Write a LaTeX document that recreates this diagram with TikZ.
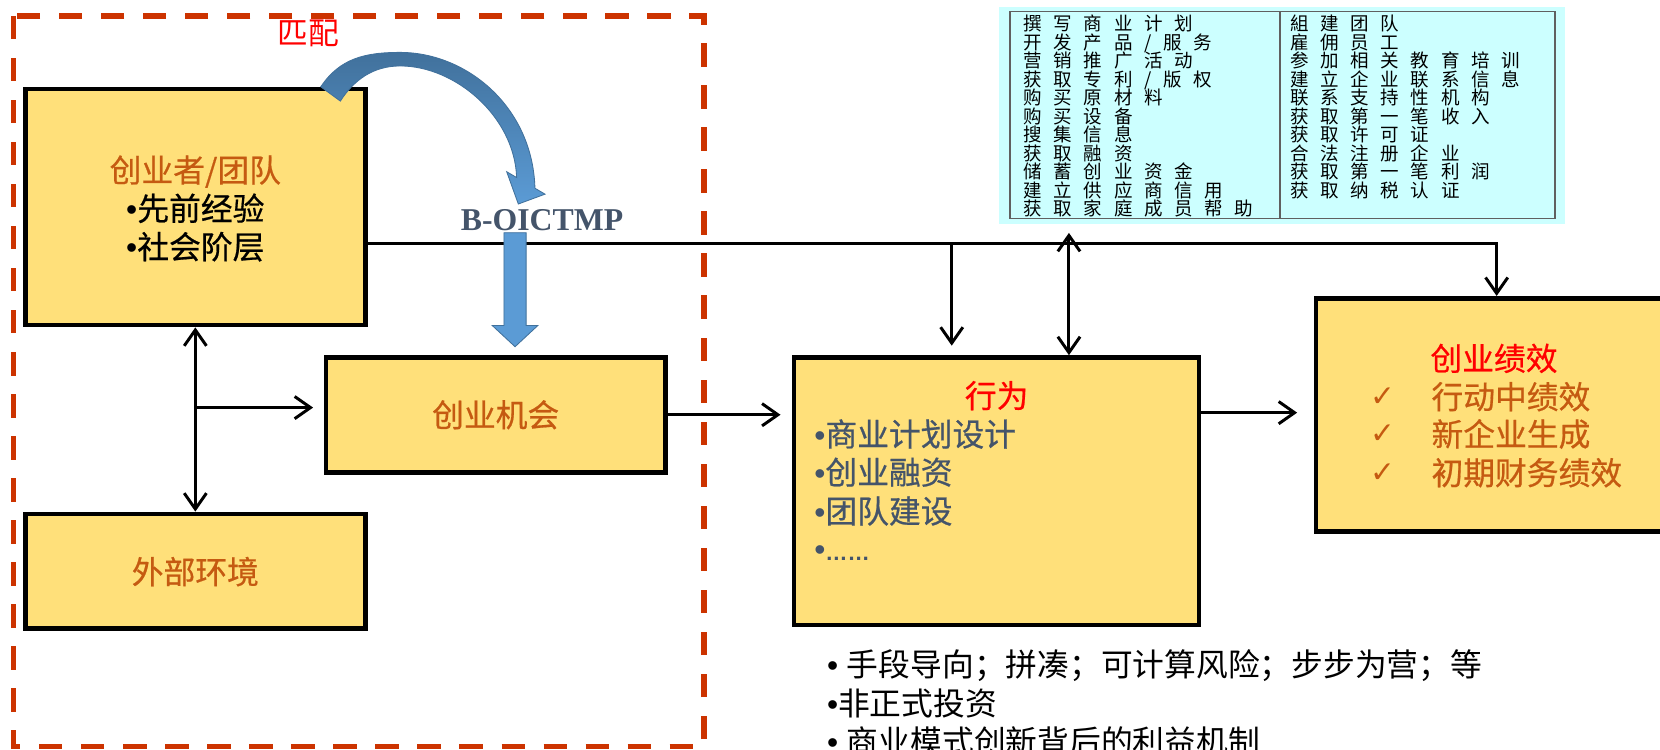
\documentclass[tikz,border=0pt]{standalone}
\usepackage{fontspec}
\setmainfont{Noto Sans CJK SC}
\newfontfamily\cjkb[FakeBold=0.6]{Noto Sans CJK SC}
\newfontfamily\lsans{Liberation Sans}
\newfontfamily\lserif{Liberation Serif}
\newfontfamily\djv{DejaVu Sans}
\usetikzlibrary{arrows.meta}
\definecolor{boxfill}{HTML}{FFE07A}
\definecolor{orangetxt}{HTML}{C55A11}
\definecolor{slate}{HTML}{44546A}
\definecolor{dashred}{HTML}{CC3300}
\definecolor{cyanfill}{HTML}{CCFFFF}
\definecolor{blueA}{HTML}{5B9BD5}
\definecolor{blueB}{HTML}{41719C}
\definecolor{frameg}{HTML}{606060}
\newcommand{\bul}{{\lsans •}}
\newcommand{\cykern}{11pt}
\def\spc#1{\spcA#1\relax}
\def\spcA#1{\ifx#1\relax\else#1\kern\cykern\expandafter\spcA\fi}
\begin{document}
\begin{tikzpicture}[x=1pt,y=-1pt,
  box/.style={draw=black,line width=4.5pt,fill=boxfill,inner sep=0pt},
  txt/.style={inner sep=0pt,font=\cjkb\fontsize{30}{36}\selectfont},
  plain/.style={inner sep=0pt,font=\fontsize{30}{36}\selectfont},
  cyt/.style={inner sep=0pt,font=\fontsize{17.5}{17.5}\selectfont},
  conn/.style={draw=black,line width=2.8pt},
  >={Straight Barb[length=15pt,width=21pt]}]
\useasboundingbox (0,0) rectangle (1568,708.4);
\fill[white] (0,0) rectangle (1568,708.4);

% cyan activity table
\node[fill=cyanfill,inner sep=0pt,outer sep=0pt,minimum width=534pt,minimum height=205.3pt] (cyb) at (1211,108.95) {};
\node[draw=frameg,line width=1.5pt,inner sep=0pt,outer sep=0pt,minimum width=514.8pt,minimum height=195.2pt] (cyf) at (1211.4,108.6) {};
\coordinate (dv) at (1209,0);
\draw[frameg,line width=1.5pt] (cyf.north -| dv) -- (cyf.south -| dv);
\foreach \t [count=\i] in {撰写商业计划,开发产品/服务,营销推广活动,获取专利/版权,购买原材料,购买设备,搜集信息,获取融资,储蓄创业资金,建立供应商信用,获取家庭成员帮助}
  \node[cyt,anchor=base west] (L\i) at (966.6,{28.8+17.5*(\i-1)}) {\expandafter\spc\expandafter{\t}};
\foreach \t [count=\i] in {組建团队,雇佣员工,参加相关教育培训,建立企业联系信息,联系支持性机构,获取第一笔收入,获取许可证,合法注册企业,获取第一笔利润,获取纳税认证}
  \node[cyt,anchor=base west] (R\i) at (1218.5,{28.8+17.5*(\i-1)}) {\expandafter\spc\expandafter{\t}};

% boxes
\node[box,minimum width=321pt,minimum height=223pt] (b1) at (184.5,195.5) {};
\node[box,minimum width=320.5pt,minimum height=108.5pt] (b2) at (468.25,391.75) {};
\node[box,minimum width=321pt,minimum height=108.5pt] (b3) at (184.5,539.75) {};
\node[box,minimum width=382.6pt,minimum height=252.5pt] (b4) at (941.3,464) {};
\node[box,minimum width=341pt,minimum height=220.4pt] (b5) at (1413.5,392) {};

% connectors
\coordinate (j1) at (1413.7,229.6);
\coordinate (j2) at (899,229.6);
\coordinate (j3) at (1009.7,229.6);
\coordinate (j4) at (184.5,385);
\coordinate (j5) at (1180,389.8);
\draw[conn,->] (b1.east |- j1) -- (j1) -- (j1 |- b5.north);
\draw[conn,->,shorten >=9pt] (j2) -- (j2 |- b4.north);
\draw[conn,<->,shorten <=8.4pt] (j3 |- cyb.south) -- (j3 |- b4.north);
\draw[conn,<->] (b1.south) -- (b3.north);
\draw[conn,->,shorten >=10pt] (j4) -- (j4 -| b2.west);
\draw[conn,->,shorten >=10.5pt] (b2.east) -- (b2.east -| b4.west);
\draw[conn,->,shorten >=15.5pt] (b4.east |- j5) -- (j5 -| b5.west);

% blue curved arrow
\path[shading=axis,top color=blueB,bottom color=blueA,draw=blueB,line width=0.8pt]
  (303,82) .. controls (321,55) and (345,49.5) .. (378,49.5)
  .. controls (440,49.5) and (503,100) .. (505.3,177.8)
  -- (514.8,183.4) -- (489.6,192.7) -- (478.6,162.2) -- (488,167.7)
  .. controls (486,110) and (430,62.3) .. (378,62.3)
  .. controls (352,62.3) and (334,76) .. (321.5,95.5) -- cycle;
% blue block arrow
\path[fill=blueA,draw=blueB,line width=0.8pt]
  (476,219.8) -- (497,219.8) -- (497,307.5) -- (508,307.5) -- (486.5,327.5)
  -- (465,307.5) -- (476,307.5) -- cycle;

% texts
\node[plain,anchor=base,text=red,font=\fontsize{29}{34}\selectfont] (match) at (291,41.8) {匹配};
\node[inner sep=0pt,anchor=base,text=slate,font=\lserif\bfseries\fontsize{30}{36}\selectfont] (boic) at (512,218) {B-OICTMP};

\node[txt,anchor=base,text=orangetxt] (t1a) at (184.5,172) {创业者/团队};
\node[txt,anchor=base] (t1b) at (184.5,208.2) {\bul 先前经验};
\node[txt,anchor=base] (t1c) at (184.5,244.4) {\bul 社会阶层};

\node[txt,anchor=base,text=orangetxt] (t2) at (468.25,403.2) {创业机会};
\node[txt,anchor=base,text=orangetxt] (t3) at (184.5,551.4) {外部环境};

\node[txt,anchor=base,text=red] (t4) at (941.4,385.1) {行为};
\node[txt,anchor=base west,text=slate] (t4a) at (769,421.4) {\bul 商业计划设计};
\node[txt,anchor=base west,text=slate] (t4b) at (769,457.4) {\bul 创业融资};
\node[txt,anchor=base west,text=slate] (t4c) at (769,494.1) {\bul 团队建设};
\node[txt,anchor=base west,text=slate] (t4d) at (769,529) {\bul{\lsans\bfseries\fontsize{21}{24}\selectfont ……}};

\node[txt,anchor=base west,text=red] (t5) at (1351,349.9) {创业绩效};
\node[txt,anchor=base west,text=orangetxt] (t5a) at (1352,386.1) {行动中绩效};
\node[txt,anchor=base west,text=orangetxt] (t5b) at (1352,421.4) {新企业生成};
\node[txt,anchor=base west,text=orangetxt] (t5c) at (1352,457.9) {初期财务绩效};
\foreach \yy [count=\i] in {374.7,410,446.5}
  \node[inner sep=0pt,text=orangetxt,font=\djv\fontsize{28}{30}\selectfont] (ck\i) at (1306.6,\yy) {✓};

\node[plain,anchor=base west] (n1) at (781,638.6) {\bul{\lsans\ }手段导向；拼凑；可计算风险；步步为营；等};
\node[plain,anchor=base west] (n2) at (781,675.5) {\bul 非正式投资};
\node[plain,anchor=base west] (n3) at (781,711.6) {\bul{\lsans\ }商业模式创新背后的利益机制};

% dashed frame
\draw[dashred,line width=5pt,dash pattern=on 22pt off 17.7pt] (12.6,15.1) rectangle (665,705.3);
\end{tikzpicture}
\end{document}
